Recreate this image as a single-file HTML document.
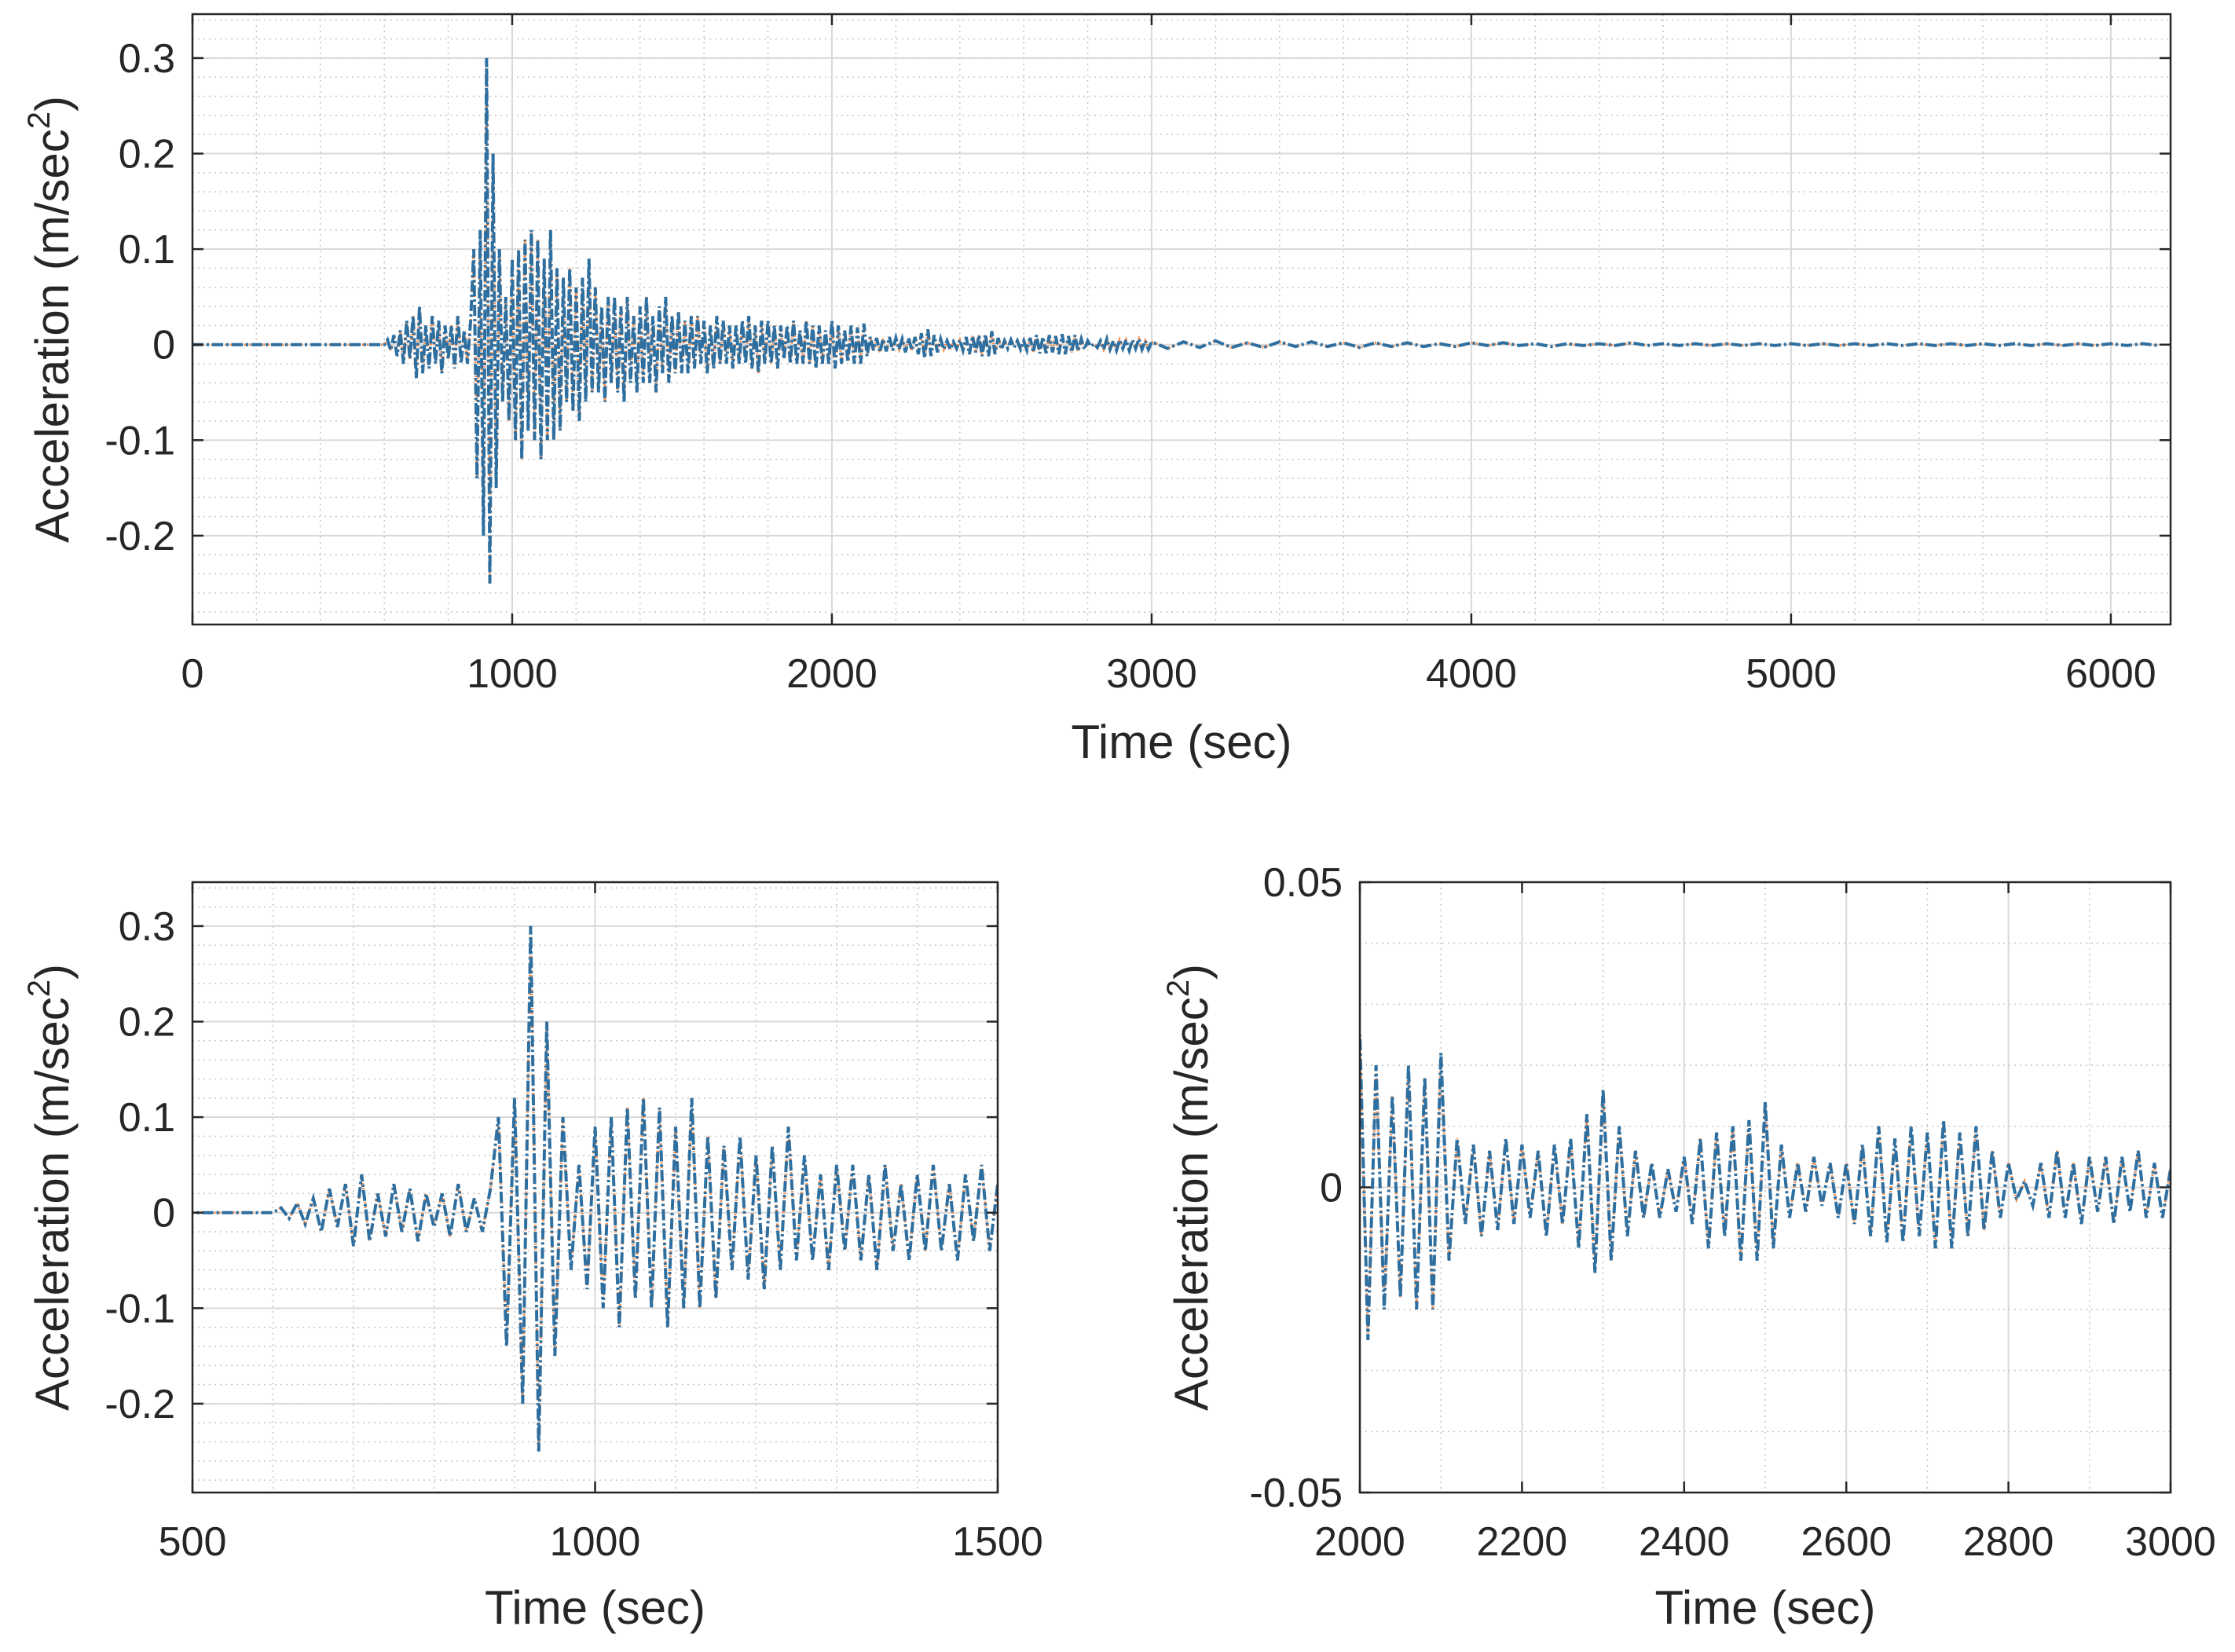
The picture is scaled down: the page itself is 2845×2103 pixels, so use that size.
<!DOCTYPE html>
<html><head><meta charset="utf-8">
<style>
html,body{margin:0;padding:0;background:#fff;width:2845px;height:2103px;overflow:hidden;}
svg{display:block;font-family:"Liberation Sans",sans-serif;}
</style></head>
<body>
<svg id="fig" width="2845" height="2103" viewBox="0 0 2845 2103" xmlns="http://www.w3.org/2000/svg"></svg>
<script>
// time step 10 s starting at 500 s
const t0 = 500;
const dt = 10;
const accel = [
0,0,0,0,0,0,0,0,0,0,0,
0.005,-0.006,0.01,-0.012,0.015,-0.02,0.025,-0.015,0.03,-0.035,
0.04,-0.03,0.02,-0.025,0.03,-0.02,0.025,-0.03,0.02,-0.015,
0.02,-0.025,0.03,-0.02,0.015,-0.02,0.025,0.1,-0.14,0.12,
-0.2,0.3,-0.25,0.2,-0.15,0.1,-0.06,0.05,-0.08,0.09,
-0.1,0.1,-0.12,0.11,-0.09,0.12,-0.1,0.11,-0.12,0.09,
-0.1,0.12,-0.1,0.08,-0.09,0.07,-0.06,0.08,-0.07,0.06,
-0.08,0.07,-0.06,0.09,-0.05,0.06,-0.05,0.04,-0.06,0.05,
-0.04,0.05,-0.05,0.04,-0.06,0.05,-0.04,0.03,-0.05,0.04,
-0.04,0.05,-0.04,0.03,-0.05,0.04,-0.03,0.05,-0.04,0.03,
-0.03,0.035,-0.03,0.025,-0.03,0.03,-0.025,0.03,-0.02,0.025,
-0.03,0.02,-0.025,0.03,-0.02,0.025,-0.02,0.02,-0.025,0.02,
-0.02,0.025,-0.02,0.03,-0.025,0.02,-0.03,0.025,-0.02,0.025,
-0.02,0.02,-0.025,0.02,-0.015,0.02,-0.02,0.025,-0.02,0.015,
-0.02,0.025,-0.02,0.02,-0.025,0.02,-0.02,0.015,-0.02,0.025,
-0.025,0.02,-0.02,0.015,-0.018,0.02,-0.02,0.018,-0.02,0.022,
-0.012,0.008,-0.006,0.007,-0.008,0.006,-0.007,0.008,-0.006,0.007,
-0.005,0.006,-0.008,0.007,-0.006,0.008,-0.01,0.012,-0.014,0.016,
-0.012,0.01,-0.008,0.006,-0.005,0.004,-0.005,0.003,-0.004,0.005,
-0.006,0.008,-0.01,0.009,-0.008,0.01,-0.012,0.011,-0.012,0.014,
-0.01,0.007,-0.005,0.004,-0.004,0.005,-0.003,0.004,-0.005,0.004,
-0.006,0.007,-0.008,0.01,-0.009,0.008,-0.009,0.01,-0.008,0.009,
-0.01,0.011,-0.01,0.009,-0.008,0.01,-0.007,0.006,-0.005,0.004,
-0.002,0.001,-0.003,0.004,-0.005,0.006,-0.005,0.004,-0.006,0.005,
-0.004,0.005,-0.006,0.005,-0.004,0.006,-0.005,0.004,-0.005,0.003
];
// tail after 3000 s, 50 s step
const tailStart = 3050;
const tailDt = 50;
const tail = [
-0.004,0.003,-0.003,0.004,-0.003,0.002,-0.003,0.003,-0.002,0.003,
-0.002,0.002,-0.003,0.002,-0.002,0.002,-0.002,0.001,-0.002,0.002,
-0.001,0.002,-0.001,0.001,-0.002,0.001,-0.001,0.001,-0.001,0.002,
-0.001,0.001,-0.001,0.001,-0.001,0.001,-0.001,0.001,-0.001,0.001,
-0.001,0.001,-0.001,0.001,-0.001,0.001,-0.001,0.001,-0.001,0.001,
-0.001,0.001,-0.001,0.001,-0.001,0.001,-0.001,0.001,-0.001,0.001,
-0.001,0.001,-0.001
];
const topXTicks = [0,1000,2000,3000,4000,5000,6000];
const topYTicks = [0.3,0.2,0.1,0,-0.1,-0.2];
const blXTicks = [500,1000,1500];
const blYTicks = [0.3,0.2,0.1,0,-0.1,-0.2];
const brXTicks = [2000,2200,2400,2600,2800,3000];
const brYTicks = [0.05,0,-0.05];

const NS="http://www.w3.org/2000/svg";
const svg=document.getElementById('fig');
function el(tag,attrs,parent){const e=document.createElementNS(NS,tag);for(const k in attrs)e.setAttribute(k,attrs[k]);(parent||svg).appendChild(e);return e;}

function buildSeries(){
  const pts=[[0,0]];
  for(let i=0;i<accel.length;i++)pts.push([t0+i*dt,accel[i]]);
  for(let i=0;i<tail.length;i++)pts.push([tailStart+i*tailDt,tail[i]]);
  return pts;
}
const series=buildSeries();

function fmt(v){return (Math.round(v*1000)/1000).toString();}

function panel(name,box,xr,yr,xTicks,yTicks,xMinor,yMinor,xlabY,ylabX){
  const [L,T,R,B]=box;
  const g=el('g',{},svg);
  
  
  const sx=v=>L+(v-xr[0])/(xr[1]-xr[0])*(R-L);
  const sy=v=>B-(v-yr[0])/(yr[1]-yr[0])*(B-T);
  const cid=name+'-clip';
  const cp=el('clipPath',{id:cid},g);el('rect',{x:L,y:T,width:R-L,height:B-T},cp);
  const gm=el('g',{stroke:'#c8c8c8','stroke-width':1.6,'stroke-dasharray':'2 5'},g);
  
  for(let v=Math.ceil(xr[0]/xMinor)*xMinor;v<=xr[1];v+=xMinor)el('line',{x1:sx(v),x2:sx(v),y1:T,y2:B},gm);
  for(let v=Math.ceil(yr[0]/yMinor-1e-9)*yMinor;v<=yr[1]+1e-9;v+=yMinor)el('line',{x1:L,x2:R,y1:sy(v),y2:sy(v)},gm);
  const gg=el('g',{stroke:'#d9d9d9','stroke-width':2},g);
  
  xTicks.forEach(v=>el('line',{x1:sx(v),x2:sx(v),y1:T,y2:B},gg));
  yTicks.forEach(v=>el('line',{x1:L,x2:R,y1:sy(v),y2:sy(v)},gg));
  const d=series.map((p,i)=>(i?'L':'M')+sx(p[0]).toFixed(1)+' '+sy(p[1]).toFixed(1)).join('');
  const o=el('path',{d:d,fill:'none',stroke:'#f08a4b','stroke-width':3,'stroke-dasharray':'2 4','clip-path':'url(#'+cid+')'},g);
  
  const b=el('path',{d:d,fill:'none',stroke:'#2f6f9f','stroke-width':4,'stroke-dasharray':'14 4 3 4','clip-path':'url(#'+cid+')'},g);
  
  const ax=el('rect',{x:L,y:T,width:R-L,height:B-T,fill:'none',stroke:'#262626','stroke-width':2.5},g);
  
  xTicks.forEach(v=>{
    el('line',{x1:sx(v),x2:sx(v),y1:B,y2:B-14,stroke:'#262626','stroke-width':2.5},g);
    el('line',{x1:sx(v),x2:sx(v),y1:T,y2:T+14,stroke:'#262626','stroke-width':2.5},g);
    const t=el('text',{x:sx(v),y:B+80,'font-size':52,fill:'#262626','text-anchor':'middle'},g);
    t.textContent=fmt(v);
  });
  yTicks.forEach(v=>{
    el('line',{x1:L,x2:L+14,y1:sy(v),y2:sy(v),stroke:'#262626','stroke-width':2.5},g);
    el('line',{x1:R,x2:R-14,y1:sy(v),y2:sy(v),stroke:'#262626','stroke-width':2.5},g);
    const t=el('text',{x:L-22,y:sy(v)+18,'font-size':52,fill:'#262626','text-anchor':'end'},g);
    t.textContent=fmt(v);
  });
  const xl=el('text',{x:(L+R)/2,y:xlabY,'font-size':60,fill:'#262626','text-anchor':'middle'},g);
  xl.textContent='Time (sec)';
  const yl=el('text',{x:0,y:0,'font-size':60,fill:'#262626','text-anchor':'middle',transform:'translate('+ylabX+','+((T+B)/2)+') rotate(-90)'},g);
  
  yl.innerHTML='Acceleration (m/sec<tspan dy="-24" font-size="40">2</tspan><tspan dy="24">)</tspan>';
}
panel('top-chart',[245,18,2763,795],[0,6187],[-0.293,0.346],topXTicks,topYTicks,200,0.02,965,87);
panel('bottom-left-chart',[245,1123,1270,1900],[500,1500],[-0.293,0.346],blXTicks,blYTicks,100,0.02,2067,87);
panel('bottom-right-chart',[1731,1123,2763,1900],[2000,3000],[-0.05,0.05],brXTicks,brYTicks,100,0.01,2067,1537);
</script>
</body></html>
